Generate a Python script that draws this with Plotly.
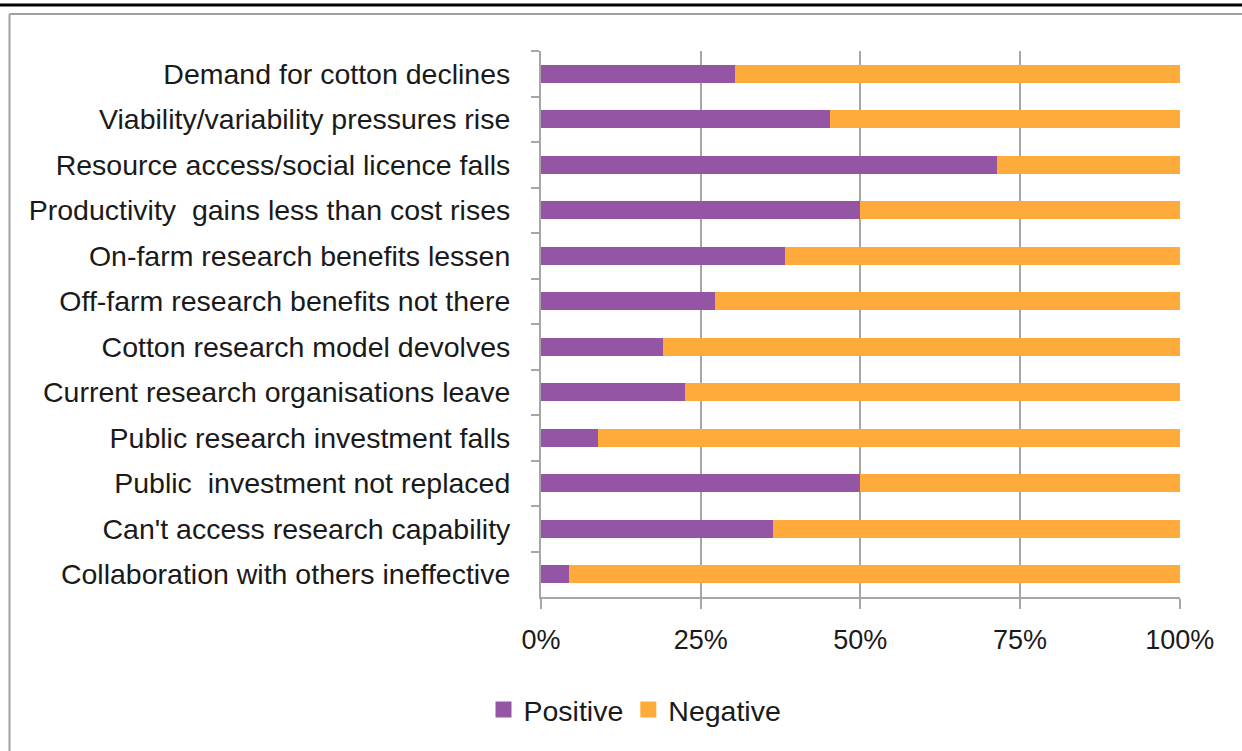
import plotly.graph_objects as go

categories = [
    "Demand for cotton declines",
    "Viability/variability pressures rise",
    "Resource access/social licence falls",
    "Productivity  gains less than cost rises",
    "On-farm research benefits lessen",
    "Off-farm research benefits not there",
    "Cotton research model devolves",
    "Current research organisations leave",
    "Public research investment falls",
    "Public  investment not replaced",
    "Can't access research capability",
    "Collaboration with others ineffective",
]
positive = [0.304, 0.452, 0.714, 0.50, 0.382, 0.272, 0.191, 0.225, 0.089, 0.50, 0.363, 0.044]
negative = [1 - p for p in positive]

tick_vals = [0, 0.25, 0.5, 0.75, 1.0]
tick_text = ["0%", "25%", "50%", "75%", "100%"]

FONT = "Liberation Sans, Arial, sans-serif"
GRAY = "#A6A6A6"
PURPLE = "#9555A5"
ORANGE = "#FFAB3B"

fig = go.Figure()
fig.add_trace(go.Bar(y=categories, x=positive, orientation="h", name="Positive",
                     marker=dict(color=PURPLE, line=dict(width=0)), showlegend=False))
fig.add_trace(go.Bar(y=categories, x=negative, orientation="h", name="Negative",
                     marker=dict(color=ORANGE, line=dict(width=0)), showlegend=False))
# legend entries with larger square swatches
fig.add_trace(go.Scatter(x=[None], y=[None], mode="markers", name="Positive",
                         marker=dict(symbol="square", size=18, color=PURPLE)))
fig.add_trace(go.Scatter(x=[None], y=[None], mode="markers", name="Negative",
                         marker=dict(symbol="square", size=18, color=ORANGE)))

# plot area: x 541..1180, y 51..597
W, H = 1242, 751
l, r, t, b = 541, W - 1180, 51, H - 597
pw, ph = 1180 - 541, 597 - 51

def px(xp):
    return (xp - 541) / pw

def py(yp):
    return (597 - yp) / ph

shapes = [
    dict(type="line", xref="paper", yref="paper", x0=px(0), x1=px(W), y0=py(5), y1=py(5),
         line=dict(color="#000000", width=3)),
    dict(type="line", xref="paper", yref="paper", x0=px(9.5), x1=px(W), y0=py(14), y1=py(14),
         line=dict(color="#A0A0A0", width=2)),
    dict(type="line", xref="paper", yref="paper", x0=px(9.5), x1=px(9.5), y0=py(14), y1=py(H),
         line=dict(color="#A0A0A0", width=2)),
]

fig.update_layout(
    width=W, height=H,
    barmode="stack", bargap=0.6,
    margin=dict(l=l, r=r, t=t, b=b, autoexpand=False),
    paper_bgcolor="white", plot_bgcolor="white",
    font=dict(family=FONT, size=28.5, color="#1a1a1a"),
    showlegend=True,
    legend=dict(orientation="h", x=px(635), xanchor="center", y=py(710), yanchor="middle",
                font=dict(size=28.5), traceorder="normal"),
    shapes=shapes,
    xaxis=dict(range=[0, 1.0005], tickvals=tick_vals, ticktext=tick_text,
               showgrid=True, gridcolor=GRAY, gridwidth=2,
               showline=True, linecolor=GRAY, linewidth=2,
               ticks="outside", ticklen=10, tickcolor=GRAY, tickwidth=2,
               zeroline=False, ticklabelstandoff=8, automargin=False,
               tickfont=dict(size=27)),
    yaxis=dict(categoryorder="array", categoryarray=categories, autorange="reversed",
               showline=True, linecolor=GRAY, linewidth=2,
               ticks="outside", ticklen=8, tickcolor=GRAY, tickwidth=2,
               tickson="boundaries", showgrid=False, ticklabelstandoff=23,
               automargin=False),
)

fig.write_html("out.html")
